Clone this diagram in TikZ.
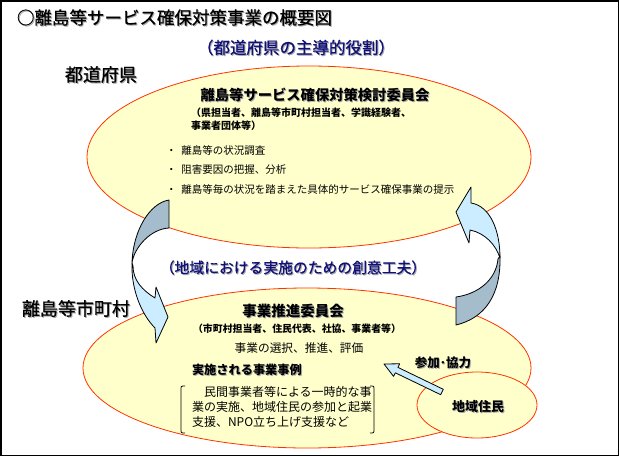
\documentclass[tikz,border=0pt]{standalone}
\usepackage{fontspec}
\setmainfont{Noto Sans CJK JP}
\newfontfamily\medfont[FakeBold=0.7]{Noto Sans CJK JP}
\usetikzlibrary{calc,shapes.geometric}
\definecolor{ellfill}{RGB}{255,255,204}
\definecolor{ellline}{RGB}{255,51,0}
\definecolor{arrlight}{RGB}{204,236,255}
\definecolor{arrdark}{RGB}{164,188,204}
\definecolor{navytext}{RGB}{16,16,120}
\definecolor{shadowgray}{RGB}{170,170,170}
\newcommand\fsz[1]{\fontsize{#1}{#1}\selectfont}
\newcommand\shd[1]{\makebox[0pt][l]{\kern1pt\raisebox{-1pt}{\textcolor{shadowgray}{#1}}}#1}
\begin{document}
\begin{tikzpicture}[x=1pt,y=-1pt,
  ell/.style={ellipse, draw=ellline, fill=ellfill, line width=0.8pt, inner sep=0pt},
  arr/.style={draw=black, line width=0.8pt, line join=round},
  txt/.style={inner sep=0pt, outer sep=0pt},
  bracketline/.style={draw=black, line width=0.8pt},
]
\useasboundingbox (0,0) rectangle (619,456);
\draw[line width=1.5pt] (0.75,0.75) rectangle (618.25,455.25);

% ellipses
\node[ell, minimum width=448pt, minimum height=160pt] (muni) at (307,368) {};
\node[ell, minimum width=444pt, minimum height=182pt] (pref) at (309,157) {};
\node[ell, minimum width=120pt, minimum height=66pt] (resid) at (477,405) {};

% left curved arrow (prefecture -> municipality)
\path[arr, fill=arrdark] (169,200) .. controls (150,203) and (133,230) .. (132,263)
  .. controls (134,248) and (150,229) .. (169,228) -- cycle;
\path[arr, fill=arrlight] (132,263) .. controls (131,290) and (142,315) .. (155,328)
  -- (156,343) -- (168,317) -- (156,287) -- (155,298)
  .. controls (142,290) and (133,280) .. (133,266) -- cycle;

% right curved arrow (municipality -> prefecture)
\path[arr, fill=arrdark] (500,256) .. controls (501,295) and (485,318) .. (456,325)
  -- (456,297) .. controls (478,294) and (496,280) .. (498,259) -- cycle;
\path[arr, fill=arrlight] (456,212) -- (471,187) -- (471,203)
  .. controls (490,206) and (500,230) .. (500,258)
  .. controls (496,245) and (485,233) .. (470,230) -- (469,243) -- cycle;

% small arrow (residents -> committee)
\coordinate (tl) at (442,392);
\coordinate (tp) at (384,364);
\coordinate (hb) at ($(tp)!14pt!(tl)$);
\path[arr, fill=arrlight] ($(tl)!3pt!90:(tp)$) -- ($(hb)!3pt!-90:(tl)$) -- ($(hb)!7pt!-90:(tl)$)
  -- (tp) -- ($(hb)!7pt!90:(tl)$) -- ($(hb)!3pt!90:(tl)$) -- ($(tl)!3pt!-90:(tp)$) -- cycle;

% bracket
\path[bracketline] (185,386) .. controls (181,386) .. (181,390) -- (181,429) .. controls (181,433) .. (185,433);
\path[bracketline] (370,386) .. controls (374,386) .. (374,390) -- (374,429) .. controls (374,433) .. (370,433);

% texts
\node[txt, anchor=west, font=\fsz{17.5}\medfont] (title) at (17,18) {\shd{○離島等サービス確保対策事業の概要図}};
\node[txt, font=\fsz{16.5}\medfont, text=navytext] (role1) at (296,48) {\shd{（都道府県の主導的役割）}};
\node[txt, anchor=west, font=\fsz{18}\medfont] (preflabel) at (65,75) {\shd{都道府県}};
\node[txt, font=\fsz{14.3}\bfseries] (comm1) at (315,95) {\shd{離島等サービス確保対策検討委員会}};
\node[txt, anchor=west, font=\fsz{10}\bfseries] (mem1a) at (191,113) {（県担当者、離島等市町村担当者、学識経験者、};
\node[txt, anchor=west, font=\fsz{10}\bfseries] (mem1b) at (191,126) {事業者団体等）};
\node[txt, anchor=west, font=\fsz{10.5}] (b1) at (166,151) {・\hspace{5pt}離島等の状況調査};
\node[txt, anchor=west, font=\fsz{10.5}] (b2) at (166,170) {・\hspace{5pt}阻害要因の把握、分析};
\node[txt, anchor=west, font=\fsz{10.5}] (b3) at (166,189) {・\hspace{5pt}離島等毎の状況を踏まえた具体的サービス確保事業の提示};
\node[txt, font=\fsz{14.8}\medfont, text=navytext] (role2) at (293,268) {\shd{（地域における実施のための創意工夫）}};
\node[txt, anchor=west, font=\fsz{18}\medfont] (munilabel) at (22,309) {\shd{離島等市町村}};
\node[txt, font=\fsz{14.5}\bfseries] (comm2) at (293,311) {\shd{事業推進委員会}};
\node[txt, font=\fsz{9.9}\bfseries] (mem2) at (297,329) {（市町村担当者、住民代表、社協、事業者等）};
\node[txt, font=\fsz{11.7}] (tasks) at (299,348) {事業の選択、推進、評価};
\node[txt, anchor=west, font=\fsz{12.2}\bfseries] (extitle) at (192,370) {\shd{実施される事業事例}};
\node[txt, anchor=west, align=left, font=\fontsize{12}{15}\selectfont] (extext) at (192,407)
  {　民間事業者等による一時的な事\\業の実施、地域住民の参加と起業\\支援、NPO立ち上げ支援など};
\node[txt, font=\fsz{12.5}\bfseries] (coop) at (443,363) {\shd{参加･協力}};
\node[txt, font=\fsz{13}\bfseries] (residtext) at (478,407) {\shd{地域住民}};
\end{tikzpicture}
\end{document}
